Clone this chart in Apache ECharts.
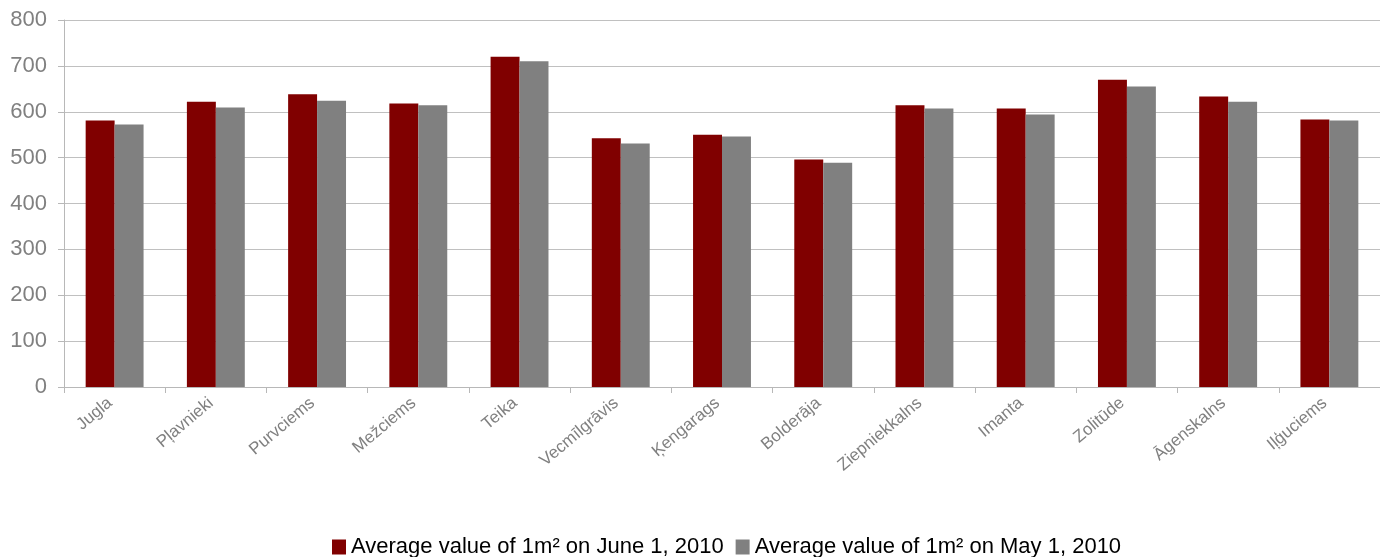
<!DOCTYPE html>
<html><head><meta charset="utf-8">
<script src="https://cdn.jsdelivr.net/npm/echarts@6/dist/echarts.min.js"></script>
<style>html,body{margin:0;padding:0;background:#fff}#c{width:1380px;height:557px}</style>
</head><body><div id="c"></div>
<script>
const categories = ['Jugla','Pļavnieki','Purvciems','Mežciems','Teika','Vecmīlgrāvis','Ķengarags','Bolderāja','Ziepniekkalns','Imanta','Zolitūde','Āgenskalns','Iļģuciems'];
const june2010 = [581, 622, 638, 618, 720, 542, 550, 496, 614, 607, 670, 633, 583];
const may2010 = [572, 609, 624, 614, 710, 531, 546, 489, 607, 594, 655, 622, 581];
const seriesNames = ['Average value of 1m² on June 1, 2010', 'Average value of 1m² on May 1, 2010'];
const yTicks = [0, 100, 200, 300, 400, 500, 600, 700, 800];

const chart = echarts.init(document.getElementById('c'), null, {renderer:'canvas'});
const font = 'Liberation Sans, Arial, sans-serif';
chart.setOption({
  animation: false,
  legend: {
    bottom: -6, left: 327, itemWidth: 14, itemHeight: 15, itemGap: 12,
    icon: 'rect',
    textStyle: {fontFamily: font, fontSize: 22, color: '#000'},
    data: seriesNames
  },
  grid: {left: 64, right: 0, top: 20, bottom: 170},
  xAxis: {
    type: 'category', data: categories,
    axisLine: {lineStyle: {color: '#b8b8b8', width: 1}},
    axisTick: {show: true, length: 6, lineStyle: {color: '#b8b8b8'}},
    axisLabel: {rotate: 40, fontFamily: font, fontSize: 17, color: '#808080', interval: 0, margin: 10, padding: [0, 6, 0, 0]}
  },
  yAxis: {
    type: 'value', min: yTicks[0], max: yTicks[yTicks.length-1], interval: 100,
    axisLine: {show: true, lineStyle: {color: '#b8b8b8'}},
    axisTick: {show: true, length: 6, lineStyle: {color: '#b8b8b8'}},
    axisLabel: {fontFamily: font, fontSize: 22, color: '#808080', margin: 17},
    splitLine: {lineStyle: {color: '#c0c0c0', width: 1}}
  },
  series: [
    {name: seriesNames[0], type: 'bar', data: june2010, itemStyle: {color: '#800000'}, barWidth: '28.6%', barGap: '0%', barCategoryGap: '42%'},
    {name: seriesNames[1], type: 'bar', data: may2010, itemStyle: {color: '#808080'}, barWidth: '28.6%', barGap: '0%'}
  ]
});
</script></body></html>
